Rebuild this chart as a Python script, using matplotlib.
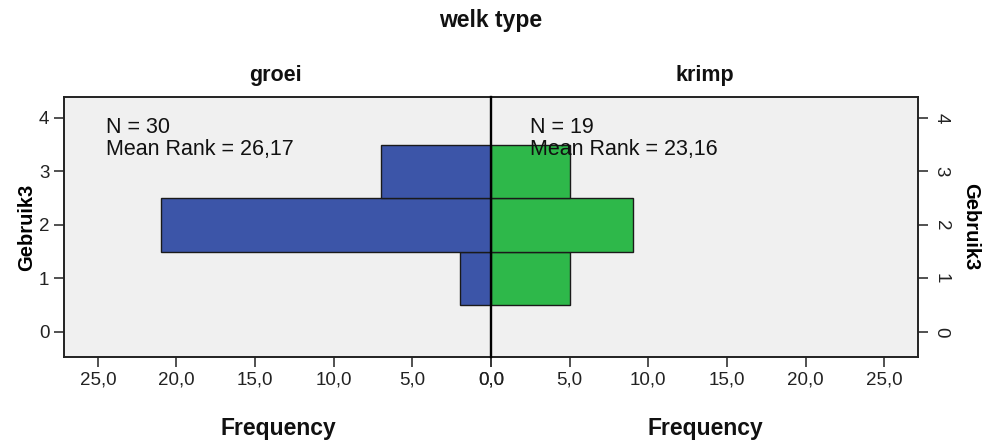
import matplotlib.pyplot as plt

plt.rcParams['font.family'] = ['Liberation Sans', 'DejaVu Sans']

# Frequencies of Gebruik3 per type
levels = [1, 2, 3]
groei_freq = [2, 21, 7]
krimp_freq = [5, 9, 5]
groei_n, groei_rank = 30, '26,17'
krimp_n, krimp_rank = 19, '23,16'
x_ticks = [0, 5, 10, 15, 20, 25]
y_ticks = [0, 1, 2, 3, 4]

W, H = 982, 441
fig = plt.figure(figsize=(W / 100, H / 100), dpi=100)
fig.patch.set_facecolor('white')

left_px, mid_px, right_px = 64, 491, 918
top_px, bot_px = 97, 357
ax_l = fig.add_axes([left_px / W, 1 - bot_px / H, (mid_px - left_px) / W, (bot_px - top_px) / H])
ax_r = fig.add_axes([mid_px / W, 1 - bot_px / H, (right_px - mid_px) / W, (bot_px - top_px) / H])

xmax = 27.15
ylim = (-0.47, 4.39)
bg = '#f0f0f0'
tick_col = '#333333'

for ax in (ax_l, ax_r):
    ax.set_facecolor(bg)
    ax.set_ylim(*ylim)
    ax.set_xticks(x_ticks)
    ax.set_xticklabels([f'{t:.1f}'.replace('.', ',') for t in x_ticks])
    ax.set_yticks(y_ticks)
    ax.tick_params(axis='both', length=7, width=1.2, colors=tick_col,
                   labelsize=13.5, labelcolor='#222222', direction='out')
    for s in ax.spines.values():
        s.set_linewidth(1.4)
        s.set_color('#222222')

# left panel: groei, mirrored
ax_l.barh(levels, groei_freq, height=1.0, color='#3c55a8', edgecolor='#1a1a1a', linewidth=1.0)
ax_l.set_xlim(xmax, 0)
ax_l.yaxis.tick_left()
ax_l.set_ylabel('Gebruik3', fontsize=14.5, fontweight='bold', labelpad=2)
ax_l.spines['right'].set_visible(False)

# right panel: krimp
ax_r.barh(levels, krimp_freq, height=1.0, color='#2eb84a', edgecolor='#1a1a1a', linewidth=1.0)
ax_r.set_xlim(0, xmax)
ax_r.spines['left'].set_linewidth(1.7)
ax_r.spines['left'].set_color('black')
ax_r.spines['left'].set_zorder(5)
ax_r.yaxis.tick_right()
ax_r.yaxis.set_label_position('right')
ax_r.set_yticklabels([str(t) for t in y_ticks], rotation=270, va='center')
ax_r.set_ylabel('Gebruik3', fontsize=14.5, fontweight='bold', rotation=270,
                labelpad=22)

txt = dict(fontsize=15.5, color='#111111', va='baseline', zorder=6)
ax_l.text(24.5, 3.72, f'N = {groei_n}', ha='left', **txt)
ax_l.text(24.5, 3.31, f'Mean Rank = {groei_rank}', ha='left', **txt)
ax_r.text(2.5, 3.72, f'N = {krimp_n}', ha='left', **txt)
ax_r.text(2.5, 3.31, f'Mean Rank = {krimp_rank}', ha='left', **txt)

fig.text(491 / W, 1 - 20 / H, 'welk type', ha='center', va='center',
         fontsize=16.5, fontweight='bold', color='#111111')
fig.text(275 / W, 1 - 75 / H, 'groei', ha='center', va='center',
         fontsize=15.5, fontweight='bold', color='#111111')
fig.text(705 / W, 1 - 75 / H, 'krimp', ha='center', va='center',
         fontsize=15.5, fontweight='bold', color='#111111')
fig.text(278 / W, 1 - 428 / H, 'Frequency', ha='center', va='center',
         fontsize=16.5, fontweight='bold', color='#111111')
fig.text(705 / W, 1 - 428 / H, 'Frequency', ha='center', va='center',
         fontsize=16.5, fontweight='bold', color='#111111')

fig.savefig('out.png', dpi=100, facecolor='white')
